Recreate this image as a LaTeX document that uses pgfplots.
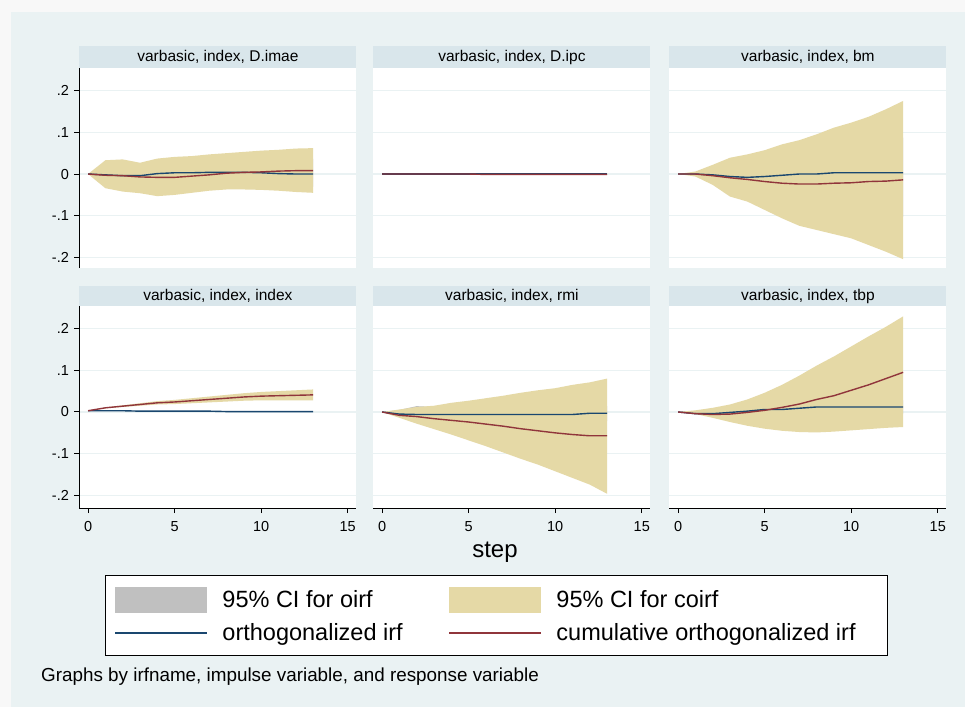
\documentclass[border=0pt]{standalone}
\usepackage{pgfplots}
\pgfplotsset{compat=1.18}
\usepackage{pgfplotstable}
\usepgfplotslibrary{fillbetween}
\usepackage{fontspec}
\setmainfont{Liberation Sans}
\definecolor{outerbg}{HTML}{F8F8F8}
\definecolor{bg}{HTML}{EAF2F3}
\definecolor{strip}{HTML}{D9E6EB}
\definecolor{sand}{HTML}{E5D9A6}
\definecolor{ciGray}{HTML}{C0C0C0}
\definecolor{navy}{RGB}{26,71,111}
\definecolor{maroon}{RGB}{144,53,59}
\definecolor{gridc}{HTML}{EAF2F3}

% s: step, ou/ol: 95% CI oirf, cu/cl: 95% CI coirf, o: oirf, c: coirf
\pgfplotstableread{
s ou ol cu cl o c
0 0 0 0 0 0 0
1 0.020 -0.022 0.033 -0.034 -0.002 -0.003
2 0.022 -0.028 0.035 -0.042 -0.004 -0.004
3 0.018 -0.030 0.027 -0.046 -0.004 -0.007
4 0.020 -0.032 0.037 -0.053 0.001 -0.008
5 0.024 -0.030 0.041 -0.050 0.003 -0.008
6 0.026 -0.028 0.043 -0.045 0.003 -0.005
7 0.028 -0.025 0.047 -0.040 0.004 -0.002
8 0.030 -0.022 0.050 -0.037 0.004 0.002
9 0.032 -0.022 0.053 -0.037 0.004 0.004
10 0.034 -0.024 0.056 -0.038 0.003 0.005
11 0.034 -0.026 0.058 -0.040 0.001 0.007
12 0.036 -0.028 0.061 -0.043 0 0.008
13 0.036 -0.030 0.062 -0.045 0 0.008
}\tImae
\pgfplotstableread{
s ou ol cu cl o c
0 0 0 0 0 0 0
1 0.0005 -0.0005 0.001 -0.001 0 0
2 0.0005 -0.0005 0.001 -0.001 0 0
3 0.0005 -0.0005 0.001 -0.002 0 0
4 0.0005 -0.0005 0.001 -0.002 0 0
5 0.0005 -0.0005 0.001 -0.002 0 0
6 0.0005 -0.0005 0.001 -0.002 0 -0.001
7 0.0005 -0.0005 0.001 -0.002 0 -0.001
8 0.0005 -0.0005 0.001 -0.002 0 -0.001
9 0.0005 -0.0005 0.001 -0.002 0 -0.001
10 0.0005 -0.0005 0.001 -0.002 0 -0.001
11 0.0005 -0.0005 0.001 -0.002 0 -0.001
12 0.0005 -0.0005 0.001 -0.002 0 -0.001
13 0.0005 -0.0005 0.001 -0.002 0 -0.001
}\tIpc
\pgfplotstableread{
s ou ol cu cl o c
0 0 0 0 0 0 0
1 0.003 -0.003 0.006 -0.006 0 0
2 0.011 -0.013 0.022 -0.026 -0.002 -0.004
3 0.019 -0.027 0.039 -0.054 -0.006 -0.009
4 0.023 -0.033 0.047 -0.066 -0.008 -0.013
5 0.028 -0.043 0.057 -0.086 -0.006 -0.018
6 0.035 -0.053 0.071 -0.106 -0.003 -0.022
7 0.040 -0.062 0.081 -0.124 0 -0.024
8 0.047 -0.067 0.095 -0.134 0 -0.024
9 0.055 -0.072 0.111 -0.144 0.003 -0.022
10 0.061 -0.077 0.123 -0.154 0.003 -0.021
11 0.068 -0.085 0.137 -0.170 0.003 -0.018
12 0.077 -0.093 0.155 -0.186 0.003 -0.017
13 0.087 -0.102 0.175 -0.204 0.003 -0.014
}\tBm
\pgfplotstableread{
s ou ol cu cl o c
0 0.003 0.003 0.003 0.003 0.003 0.003
1 0.003 0.003 0.011 0.009 0.003 0.010
2 0.003 0.003 0.016 0.012 0.003 0.014
3 0.002 0.002 0.021 0.015 0.002 0.018
4 0.002 0.002 0.026 0.018 0.002 0.022
5 0.002 0.002 0.029 0.019 0.002 0.024
6 0.002 0.002 0.033 0.021 0.002 0.027
7 0.002 0.002 0.037 0.023 0.002 0.030
8 0.001 0.001 0.041 0.025 0.001 0.033
9 0.001 0.001 0.045 0.027 0.001 0.036
10 0.001 0.001 0.048 0.028 0.001 0.038
11 0.001 0.001 0.050 0.028 0.001 0.039
12 0.001 0.001 0.052 0.028 0.001 0.040
13 0.001 0.001 0.054 0.028 0.001 0.041
}\tIndex
\pgfplotstableread{
s ou ol cu cl o c
0 0 0 0 0 0 0
1 0.005 -0.012 0.006 -0.014 -0.005 -0.008
2 0.014 -0.020 0.012 -0.028 -0.006 -0.011
3 0.012 -0.022 0.015 -0.041 -0.006 -0.016
4 0.012 -0.024 0.022 -0.054 -0.006 -0.020
5 0.013 -0.025 0.027 -0.068 -0.006 -0.024
6 0.013 -0.025 0.033 -0.082 -0.006 -0.029
7 0.013 -0.025 0.039 -0.097 -0.006 -0.034
8 0.013 -0.025 0.046 -0.112 -0.006 -0.040
9 0.013 -0.025 0.052 -0.126 -0.006 -0.045
10 0.013 -0.025 0.057 -0.142 -0.006 -0.050
11 0.013 -0.025 0.065 -0.158 -0.006 -0.054
12 0.014 -0.022 0.071 -0.174 -0.003 -0.057
13 0.014 -0.022 0.080 -0.196 -0.003 -0.057
}\tRmi
\pgfplotstableread{
s ou ol cu cl o c
0 0 0 0 0 0 0
1 0.002 -0.004 0.004 -0.005 -0.004 -0.004
2 0.005 -0.010 0.010 -0.014 -0.004 -0.006
3 0.008 -0.012 0.018 -0.024 -0.001 -0.005
4 0.012 -0.012 0.030 -0.033 0.002 -0.001
5 0.018 -0.010 0.046 -0.040 0.006 0.004
6 0.020 -0.010 0.065 -0.045 0.006 0.011
7 0.022 -0.008 0.087 -0.048 0.009 0.019
8 0.025 -0.005 0.111 -0.049 0.012 0.030
9 0.026 -0.004 0.133 -0.047 0.012 0.039
10 0.027 -0.004 0.157 -0.044 0.012 0.052
11 0.028 -0.004 0.181 -0.041 0.012 0.065
12 0.028 -0.004 0.204 -0.038 0.012 0.080
13 0.028 -0.004 0.229 -0.036 0.012 0.095
}\tTbp

\tikzset{
  oline/.style={navy, line width=1.4pt},
  cline/.style={maroon, line width=1.4pt},
}
\pgfplotsset{
  set layers,
  irf/.style={
    scale only axis, width=277pt, anchor=north west,
    xmin=-0.5, xmax=15.5,
    axis background/.style={fill=white},
    axis x line*=bottom, axis y line*=left, separate axis lines,
    axis line style={-},
    x axis line style={draw=none}, y axis line style={draw=none},
    xtick={0,5,10,15}, ytick={-0.2,-0.1,0,0.1,0.2},
    xticklabels={}, yticklabels={},
    xtick style={draw=none}, ytick style={draw=none},
    ymajorgrids, xmajorgrids=false,
    major grid style={gridc, line width=1.2pt},
    tick align=outside, major tick length=5pt,
    tick label style={font=\fontsize{14.5}{16}\selectfont, text=black},
    xticklabel style={yshift=-5pt},
    yticklabel style={xshift=-2pt},
    /pgf/number format/assume math mode=true,
  },
  toprow/.style={height=200pt, ymin=-0.2251, ymax=0.2539},
  botrow/.style={height=202pt, ymin=-0.23, ymax=0.2539,
    x axis line style={draw=black, line width=1pt},
    xtick style={draw=black, line width=1pt},
    xticklabels={0,5,10,15}},
  leftcol/.style={
    y axis line style={draw=black, line width=1pt},
    ytick style={draw=black, line width=1pt},
    yticklabels={-.2,-.1,0,.1,.2}},
  swatch/.style={legend image code/.code={\fill[##1] (0pt,-13pt) rectangle (92pt,13pt);}},
  lineimg/.style={legend image code/.code={\draw[##1, line width=2pt] (0pt,0pt) -- (92pt,0pt);}},
  bgbox/.style={scale only axis, anchor=north west, xmin=0, xmax=1, ymin=0, ymax=1,
    axis line style={draw=none}, ticks=none},
}

\begin{document}
\begin{tikzpicture}
\path (0pt,0pt) rectangle (965pt,-707pt);
% graph backgrounds (drawn on the axis background layer, under the panels)
\begin{axis}[bgbox, at={(0pt,0pt)}, width=965pt, height=707pt,
  axis background/.style={fill=outerbg}]
\end{axis}
\begin{axis}[bgbox, at={(11pt,-12pt)}, width=954pt, height=695pt,
  axis background/.style={fill=bg}]
\end{axis}

% title strips
\foreach \x/\t in {79.4/{varbasic, index, D.imae}, 373.4/{varbasic, index, D.ipc}, 669.4/{varbasic, index, bm}} {
  \fill[strip] (\x pt,-46pt) rectangle ++(277pt,-22pt);
  \node[font=\fontsize{15.5}{17}\selectfont, text=black] at (\x pt+138.5pt,-57pt) {\t};
}
\foreach \x/\t in {79.4/{varbasic, index, index}, 373.4/{varbasic, index, rmi}, 669.4/{varbasic, index, tbp}} {
  \fill[strip] (\x pt,-285.5pt) rectangle ++(277pt,-20.5pt);
  \node[font=\fontsize{15.5}{17}\selectfont, text=black] at (\x pt+138.5pt,-296pt) {\t};
}

% ---- top row ----
\begin{axis}[irf, toprow, leftcol, at={(79.4pt,-68pt)}]
\addplot[name path=aou, draw=none, forget plot] table[x=s,y=ou]{\tImae};
\addplot[name path=aol, draw=none, forget plot] table[x=s,y=ol]{\tImae};
\addplot[fill=ciGray, draw=none] fill between[of=aou and aol];
\addplot[name path=acu, draw=none, forget plot] table[x=s,y=cu]{\tImae};
\addplot[name path=acl, draw=none, forget plot] table[x=s,y=cl]{\tImae};
\addplot[fill=sand, draw=none] fill between[of=acu and acl];
\addplot[oline] table[x=s,y=o]{\tImae};
\addplot[cline] table[x=s,y=c]{\tImae};
\end{axis}

\begin{axis}[irf, toprow, at={(373.4pt,-68pt)}]
\addplot[name path=bou, draw=none, forget plot] table[x=s,y=ou]{\tIpc};
\addplot[name path=bol, draw=none, forget plot] table[x=s,y=ol]{\tIpc};
\addplot[fill=ciGray, draw=none] fill between[of=bou and bol];
\addplot[name path=bcu, draw=none, forget plot] table[x=s,y=cu]{\tIpc};
\addplot[name path=bcl, draw=none, forget plot] table[x=s,y=cl]{\tIpc};
\addplot[fill=sand, draw=none] fill between[of=bcu and bcl];
\addplot[oline] table[x=s,y=o]{\tIpc};
\addplot[cline] table[x=s,y=c]{\tIpc};
\end{axis}

\begin{axis}[irf, toprow, at={(669.4pt,-68pt)}]
\addplot[name path=cou, draw=none, forget plot] table[x=s,y=ou]{\tBm};
\addplot[name path=col, draw=none, forget plot] table[x=s,y=ol]{\tBm};
\addplot[fill=ciGray, draw=none] fill between[of=cou and col];
\addplot[name path=ccu, draw=none, forget plot] table[x=s,y=cu]{\tBm};
\addplot[name path=ccl, draw=none, forget plot] table[x=s,y=cl]{\tBm};
\addplot[fill=sand, draw=none] fill between[of=ccu and ccl];
\addplot[oline] table[x=s,y=o]{\tBm};
\addplot[cline] table[x=s,y=c]{\tBm};
\end{axis}

% ---- bottom row ----
\begin{axis}[irf, botrow, leftcol, at={(79.4pt,-306pt)}]
\addplot[name path=dou, draw=none, forget plot] table[x=s,y=ou]{\tIndex};
\addplot[name path=dol, draw=none, forget plot] table[x=s,y=ol]{\tIndex};
\addplot[fill=ciGray, draw=none] fill between[of=dou and dol];
\addplot[name path=dcu, draw=none, forget plot] table[x=s,y=cu]{\tIndex};
\addplot[name path=dcl, draw=none, forget plot] table[x=s,y=cl]{\tIndex};
\addplot[fill=sand, draw=none] fill between[of=dcu and dcl];
\addplot[oline] table[x=s,y=o]{\tIndex};
\addplot[cline] table[x=s,y=c]{\tIndex};
\end{axis}

\begin{axis}[irf, botrow, at={(373.4pt,-306pt)},
  legend columns=2,
  legend style={at={(axis description cs:-0.969,-0.3317)}, anchor=north west,
    draw=black, line width=1pt, fill=white,
    inner xsep=9pt, inner ysep=11pt,
    font=\fontsize{23.5}{26}\selectfont,
    /tikz/every odd column/.append style={column sep=12pt},
    row sep=9pt},
  legend cell align=left]
\addplot[name path=eou, draw=none, forget plot] table[x=s,y=ou]{\tRmi};
\addplot[name path=eol, draw=none, forget plot] table[x=s,y=ol]{\tRmi};
\addplot[fill=ciGray, draw=none, swatch] fill between[of=eou and eol];
\addplot[name path=ecu, draw=none, forget plot] table[x=s,y=cu]{\tRmi};
\addplot[name path=ecl, draw=none, forget plot] table[x=s,y=cl]{\tRmi};
\addplot[fill=sand, draw=none, swatch] fill between[of=ecu and ecl];
\addplot[oline, lineimg] table[x=s,y=o]{\tRmi};
\addplot[cline, lineimg] table[x=s,y=c]{\tRmi};
\legend{\makebox[224pt][l]{95\% CI for oirf}, \makebox[320pt][l]{95\% CI for coirf},
  \makebox[224pt][l]{orthogonalized irf}, \makebox[320pt][l]{cumulative orthogonalized irf}}
\end{axis}

\begin{axis}[irf, botrow, at={(669.4pt,-306pt)}]
\addplot[name path=fou, draw=none, forget plot] table[x=s,y=ou]{\tTbp};
\addplot[name path=fol, draw=none, forget plot] table[x=s,y=ol]{\tTbp};
\addplot[fill=ciGray, draw=none] fill between[of=fou and fol];
\addplot[name path=fcu, draw=none, forget plot] table[x=s,y=cu]{\tTbp};
\addplot[name path=fcl, draw=none, forget plot] table[x=s,y=cl]{\tTbp};
\addplot[fill=sand, draw=none] fill between[of=fcu and fcl];
\addplot[oline] table[x=s,y=o]{\tTbp};
\addplot[cline] table[x=s,y=c]{\tTbp};
\end{axis}

\node[font=\fontsize{24}{28}\selectfont, text=black] at (495pt,-552pt) {step};
\node[font=\fontsize{18.85}{21}\selectfont, text=black, anchor=west, inner sep=0pt] at (41pt,-677pt) {Graphs by irfname, impulse variable, and response variable};
\end{tikzpicture}
\end{document}
